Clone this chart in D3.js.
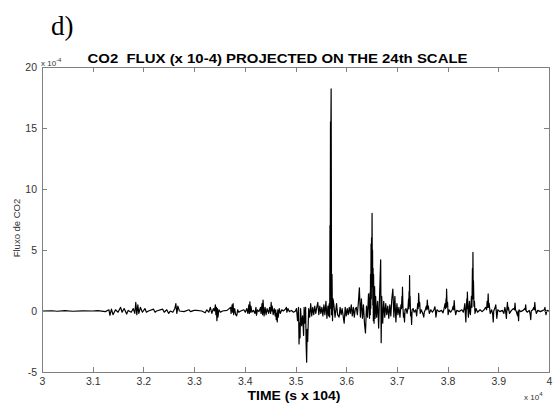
<!DOCTYPE html>
<html>
<head>
<meta charset="utf-8">
<script src="https://cdn.jsdelivr.net/npm/d3@7"></script>
<style>
  body { margin: 0; background: #fff; }
  svg text { font-family: "Liberation Sans", Arial, sans-serif; }
  .axis path, .axis line { stroke: #808080; shape-rendering: crispEdges; }
  .axis text { fill: #333; font-size: 10.5px; }
</style>
</head>
<body>
<div id="chart"></div>
<script>
// time in units of 10^4 s, flux in units of 10^-4
var segment1 = [
  [3.000, 0], [3.020, 0.02], [3.030, -0.02], [3.045, 0.03], [3.060, -0.02], [3.080, 0.01],
  [3.100, 0], [3.110, 0.03], [3.125, -0.05], [3.132, 0.1], [3.134, -0.35], [3.137, 0.15],
  [3.140, -0.3], [3.145, 0.1], [3.150, -0.1], [3.155, 0.3], [3.158, -0.1], [3.162, 0.2],
  [3.167, -0.25], [3.170, 0.05], [3.176, -0.1], [3.180, 0.2], [3.183, -0.2], [3.185, 0.7],
  [3.187, -0.3], [3.189, 0.5], [3.191, -0.2], [3.194, 0.3], [3.198, -0.1], [3.203, 0.2],
  [3.206, -0.1], [3.210, 0], [3.220, 0.15], [3.223, -0.1], [3.226, 0], [3.238, 0.15],
  [3.241, -0.1], [3.246, 0.1], [3.250, -0.2], [3.253, 0], [3.258, -0.1], [3.262, 0.2],
  [3.264, 0.6], [3.266, -0.2], [3.268, 0.4], [3.271, 0], [3.280, -0.05], [3.290, 0.1],
  [3.293, -0.05], [3.300, 0.05]
];

var segment2 = [
  [3.305, 0.05], [3.315, 0], [3.322, -0.15], [3.325, 0.1], [3.329, -0.1], [3.332, 0.3],
  [3.335, -0.2], [3.338, 0.2], [3.340, 0], [3.342, 0.5], [3.343, -0.3], [3.344, 0.3],
  [3.345, -0.8], [3.346, 0.2], [3.347, -0.5], [3.349, 0.1], [3.352, -0.1], [3.356, 0],
  [3.365, 0.05], [3.372, 0.3], [3.373, -0.2], [3.375, 0.5], [3.376, -0.1], [3.377, 0.6],
  [3.378, -0.3], [3.380, 0.2], [3.382, -0.3], [3.384, -0.4], [3.386, 0.1], [3.388, -0.1],
  [3.392, 0], [3.398, 0.1], [3.401, -0.1], [3.404, 0.2], [3.406, -0.2], [3.408, 0.5],
  [3.409, -0.2], [3.410, 0.75], [3.411, -0.1], [3.412, 0.4], [3.414, -0.1], [3.417, 0.05],
  [3.420, -0.2], [3.422, 0.3], [3.423, -0.35], [3.425, 0.1], [3.428, -0.05], [3.431, 0.3],
  [3.432, -0.2], [3.434, 0.6], [3.435, -0.3], [3.436, 0.9], [3.437, 0.2], [3.438, -0.4],
  [3.440, 0.3], [3.442, -0.3], [3.444, 0.2], [3.447, -0.2], [3.449, 0.3], [3.451, -0.2],
  [3.452, 0.7], [3.453, 0], [3.454, 0.4], [3.456, -0.3], [3.458, 0.2], [3.460, -0.4],
  [3.461, 0.1], [3.462, -0.7], [3.463, -0.2], [3.464, -0.9], [3.465, 0.1], [3.466, -0.5],
  [3.468, 0.2], [3.470, -0.2], [3.473, 0.1], [3.476, 0], [3.480, 0.15], [3.482, 0.3],
  [3.483, -0.1], [3.485, 0.2], [3.488, -0.05], [3.492, 0.05], [3.496, -0.1], [3.500, 0]
];

var segment3 = [
  [3.502, 0.2], [3.504, -0.8], [3.506, 0.3], [3.507, -2.7], [3.508, -1.0], [3.509, -2.2],
  [3.510, 0.2], [3.512, -1.2], [3.514, -0.4], [3.516, -2.0], [3.517, 0.3], [3.518, -1.0],
  [3.520, 0.3], [3.521, -2.8], [3.522, -4.2], [3.523, -1.5], [3.524, -2.5], [3.526, 0.2],
  [3.528, -0.5], [3.530, 0.6], [3.532, -0.4], [3.534, 0.3], [3.536, -0.3], [3.538, 0.4],
  [3.540, -0.2], [3.542, 0.3], [3.544, 0.7], [3.546, -0.3], [3.548, 0.4], [3.550, -0.2],
  [3.552, 0.3], [3.554, -0.4], [3.556, 0.5], [3.558, -0.3], [3.560, 0.8], [3.562, -0.6],
  [3.564, 0.4], [3.5655, -0.4], [3.5665, 0.6], [3.5675, -0.5], [3.568, 7.0], [3.5685, 0.2],
  [3.569, 15.5], [3.5693, 14.0], [3.5698, 15.4], [3.5703, 18.2], [3.5707, 10.0], [3.571, -0.3],
  [3.572, 3.0], [3.573, -0.8], [3.574, 1.0], [3.576, 0.4], [3.578, -0.5], [3.581, 0.6],
  [3.583, -0.3], [3.586, -0.5], [3.588, 0.3], [3.590, -0.3], [3.592, 0.2], [3.594, -0.4],
  [3.596, -1.0], [3.598, 0.3], [3.600, -0.4], [3.602, 0.2], [3.604, -0.3], [3.606, 0.3],
  [3.608, -0.2], [3.610, 0.5], [3.612, -0.4], [3.614, 0.3], [3.616, -0.5], [3.618, 0.2],
  [3.620, 0.3], [3.622, -0.3], [3.624, 0.7], [3.626, 1.9], [3.628, -0.5], [3.630, 1.0],
  [3.632, -0.6], [3.634, 0.5], [3.636, -1.0], [3.638, -1.8], [3.640, 0.4], [3.642, -0.5],
  [3.644, 1.4], [3.646, -0.6], [3.647, 1.5], [3.6475, -0.3], [3.648, 3.0], [3.6485, 0.2],
  [3.649, 5.5], [3.6495, 1.0], [3.650, 6.0], [3.6505, 2.0], [3.651, 8.0], [3.6515, 3.5],
  [3.652, 5.0], [3.6525, 0.5], [3.653, 3.5], [3.6535, -0.8], [3.654, 3.0], [3.655, -1.0],
  [3.656, 2.0], [3.657, -0.6], [3.658, 1.2], [3.660, -0.5], [3.662, 0.8], [3.664, -1.4],
  [3.666, 1.5], [3.668, 4.2], [3.669, -2.6], [3.670, 1.2], [3.672, -1.0], [3.674, 0.8],
  [3.676, -0.5], [3.678, 0.6], [3.680, -0.3], [3.682, 0.4], [3.684, -0.6], [3.686, 0.5],
  [3.688, -0.4], [3.690, 1.0], [3.692, 1.8], [3.694, -0.5], [3.696, 1.2], [3.698, -0.9],
  [3.700, 0.6]
];

var segment4 = [
  [3.702, -0.3], [3.704, 0.3], [3.706, -0.5], [3.708, 0.5], [3.709, 0.2], [3.710, 1.2],
  [3.7105, 0.3], [3.711, 1.95], [3.712, 0.2], [3.713, -0.5], [3.714, -0.2], [3.715, -0.9],
  [3.716, 0.1], [3.718, 0.2], [3.720, -0.2], [3.722, 0.3], [3.723, 1.0], [3.7235, 0.2],
  [3.724, 1.6], [3.7245, 0.4], [3.725, 2.9], [3.7255, 0.6], [3.726, 1.2], [3.727, -0.4],
  [3.728, -0.1], [3.729, -1.1], [3.730, 0.1], [3.732, 0.2], [3.734, -0.1], [3.737, 0.1],
  [3.739, -0.4], [3.740, 0.1], [3.741, 0.6], [3.742, 0.2], [3.743, 1.45], [3.744, 0.4],
  [3.745, 0.7], [3.746, -0.2], [3.748, 0.1], [3.751, -0.2], [3.753, -0.5], [3.754, -0.1],
  [3.756, 0.1], [3.758, 0.4], [3.759, 0.1], [3.760, 0.9], [3.761, 0.2], [3.762, 0.4],
  [3.764, -0.2], [3.767, 0.1], [3.770, -0.1], [3.773, 0.1], [3.775, 0.35], [3.776, 0],
  [3.777, -0.5], [3.779, 0.1], [3.783, -0.05], [3.788, 0.05], [3.791, -0.15], [3.793, 0.2],
  [3.795, 0.6], [3.796, 0.2], [3.797, 1.0], [3.7975, 0.3], [3.798, 1.8], [3.799, 0.4],
  [3.800, 0.7], [3.801, -0.3], [3.803, 0.1], [3.806, -0.1], [3.809, 0.1], [3.811, 0.4],
  [3.812, 0.1], [3.813, 0.85], [3.814, 0.2], [3.816, -0.3], [3.818, 0.05], [3.823, -0.05],
  [3.828, 0.1], [3.831, -0.1], [3.833, 0.3], [3.834, 0.6], [3.835, -0.2], [3.836, -0.9],
  [3.837, 0.3], [3.838, 1.0], [3.8385, 0.2], [3.839, 1.55], [3.840, 0.3], [3.841, -0.5],
  [3.842, 0.2], [3.843, 0.8], [3.844, -0.1], [3.845, -0.3], [3.846, 0.4], [3.847, 1.2],
  [3.848, 0.3], [3.849, 3.5], [3.8495, 1.0], [3.850, 4.8], [3.8505, 1.5], [3.851, 2.5],
  [3.852, 0.4], [3.853, 0.8], [3.854, -0.2], [3.856, 0.2], [3.859, -0.1], [3.864, 0.1],
  [3.868, -0.05], [3.872, 0.1], [3.875, 0.3], [3.877, 0.1], [3.878, 0.8], [3.879, 0.3],
  [3.880, 1.4], [3.881, 0.3], [3.882, 0.6], [3.884, -0.2], [3.887, 0.1], [3.889, -0.3],
  [3.890, -0.9], [3.891, 0], [3.893, 0.2], [3.895, 0.5], [3.896, 0], [3.897, -0.6],
  [3.899, 0.1], [3.903, -0.05], [3.908, 0.05], [3.911, -0.2], [3.913, 0.3], [3.914, 0.1],
  [3.916, -0.6], [3.917, 0.2], [3.918, 0.7], [3.919, 0.1], [3.920, 0.3], [3.922, -0.2],
  [3.926, 0.05], [3.930, 0.2], [3.932, 0.1], [3.933, 0.65], [3.934, 0.1], [3.936, -0.1],
  [3.938, -0.4], [3.939, 0], [3.940, -0.8], [3.941, 0.1], [3.944, -0.05], [3.949, 0.05],
  [3.952, 0.2], [3.953, 0.1], [3.954, 0.5], [3.955, 0], [3.957, -0.1], [3.961, 0.05],
  [3.963, -0.3], [3.964, -0.7], [3.965, 0], [3.968, 0.1], [3.970, 0.3], [3.971, 0.1],
  [3.972, 0.7], [3.973, 0.2], [3.975, -0.2], [3.978, 0.05], [3.983, -0.05], [3.988, 0.05],
  [3.991, 0.1], [3.992, 0.3], [3.993, 0], [3.994, -0.3], [3.996, 0.05], [4.000, 0]
];

var xTicks = [3, 3.1, 3.2, 3.3, 3.4, 3.5, 3.6, 3.7, 3.8, 3.9, 4];
var xTickLabels = ["3", "3.1", "3.2", "3.3", "3.4", "3.5", "3.6", "3.7", "3.8", "3.9", "4"];
var yTicks = [-5, 0, 5, 10, 15, 20];
var yTickLabels = ["-5", "0", "5", "10", "15", "20"];

var data = segment1.concat(segment2, segment3, segment4);

var margin = {top: 67, right: 4, bottom: 31, left: 42},
    width = 553 - margin.left - margin.right,
    height = 403 - margin.top - margin.bottom;

var svg = d3.select("#chart").append("svg")
    .attr("width", 553)
    .attr("height", 403);

var g = svg.append("g")
    .attr("transform", "translate(" + margin.left + "," + margin.top + ")");

var x = d3.scaleLinear().domain([3, 4]).range([0, width]);
var y = d3.scaleLinear().domain([-5, 20]).range([height, 0]);

// panel letter
svg.append("text")
    .attr("x", 51)
    .attr("y", 35)
    .style("font-family", "'Liberation Serif', 'Times New Roman', serif")
    .style("font-size", "27px")
    .text("d)");

// title
svg.append("text")
    .attr("x", 277.5)
    .attr("y", 62.5)
    .attr("text-anchor", "middle")
    .attr("textLength", 380)
    .attr("lengthAdjust", "spacingAndGlyphs")
    .style("white-space", "pre")
    .style("font-size", "13px")
    .style("font-weight", "bold")
    .text("CO2  FLUX (x 10-4) PROJECTED ON THE 24th SCALE");

// signal
var line = d3.line()
    .x(function(d) { return x(d[0]); })
    .y(function(d) { return y(d[1]); });

g.append("path")
    .datum(data)
    .attr("fill", "none")
    .attr("stroke", "#000")
    .attr("stroke-width", 1.2)
    .attr("stroke-linejoin", "round")
    .attr("d", line);

// axes, ticks pointing inward on all four sides
g.append("g")
    .attr("class", "axis axis-x")
    .attr("transform", "translate(0," + height + ")")
    .call(d3.axisBottom(x).tickValues(xTicks).tickSizeInner(-5).tickSizeOuter(0).tickPadding(6)
      .tickFormat(function(d, i) { return xTickLabels[i]; }));

g.append("g")
    .attr("class", "axis axis-x-top")
    .call(d3.axisTop(x).tickValues(xTicks).tickSizeInner(-5).tickSizeOuter(0).tickFormat(""));

g.append("g")
    .attr("class", "axis axis-y")
    .call(d3.axisLeft(y).tickValues(yTicks).tickSizeInner(-5).tickSizeOuter(0).tickPadding(5)
      .tickFormat(function(d, i) { return yTickLabels[i]; }));

g.append("g")
    .attr("class", "axis axis-y-right")
    .attr("transform", "translate(" + width + ",0)")
    .call(d3.axisRight(y).tickValues(yTicks).tickSizeInner(-5).tickSizeOuter(0).tickFormat(""));

g.selectAll(".axis text").style("font-family", "'Liberation Sans', Arial, sans-serif");

// y exponent
var yExp = svg.append("text")
    .attr("x", 41)
    .attr("y", 66)
    .style("font-size", "8px")
    .style("fill", "#333");
yExp.append("tspan").text("x 10");
yExp.append("tspan").attr("dy", -4).style("font-size", "6px").text("-4");

// x exponent
var xExp = svg.append("text")
    .attr("x", 524)
    .attr("y", 400)
    .style("font-size", "8px")
    .style("fill", "#333");
xExp.append("tspan").text("x 10");
xExp.append("tspan").attr("dy", -4).style("font-size", "6px").text("4");

// axis titles
svg.append("text")
    .attr("x", 294)
    .attr("y", 400)
    .attr("text-anchor", "middle")
    .attr("textLength", 93)
    .attr("lengthAdjust", "spacingAndGlyphs")
    .style("font-size", "13px")
    .style("font-weight", "bold")
    .text("TIME (s x 104)");

svg.append("text")
    .attr("transform", "translate(20,228) rotate(-90)")
    .attr("text-anchor", "middle")
    .style("font-size", "9.5px")
    .style("fill", "#333")
    .text("Fluxo de CO2");
</script>
</body>
</html>
